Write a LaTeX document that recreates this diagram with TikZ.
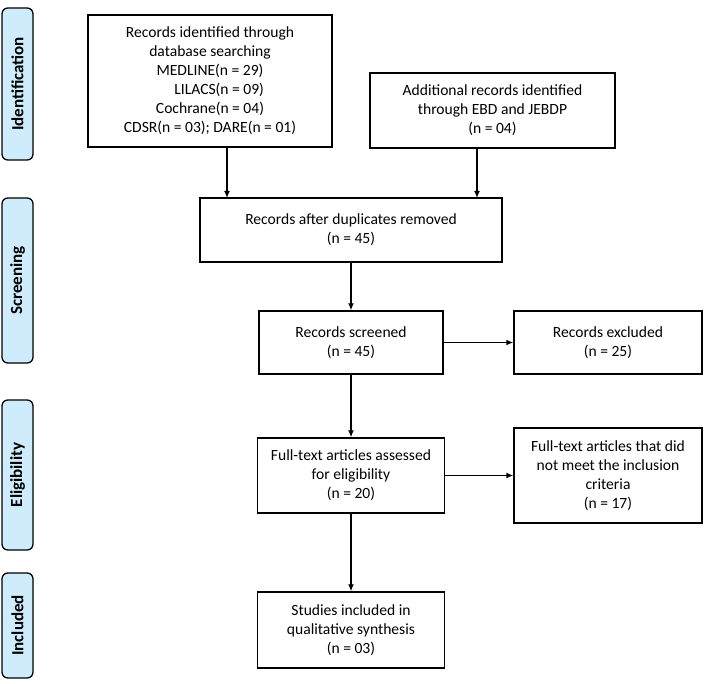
\documentclass[tikz,border=0pt]{standalone}
\usepackage{fontspec}
\setmainfont{Carlito}
\usetikzlibrary{arrows.meta,positioning,calc}
\definecolor{phasefill}{RGB}{206,236,252}
\begin{document}
\begin{tikzpicture}[x=0.03cm,y=-0.03cm,
  box/.style={draw,line width=1.1pt,align=center,inner sep=2pt,font=\fontsize{13.3}{16.2}\selectfont},
  phase/.style={draw,line width=1.1pt,fill=phasefill,rounded corners=5pt,rotate=90,font=\bfseries\fontsize{14.5}{16}\selectfont,minimum height=31*0.03cm,inner sep=1pt},
  arr/.style={-{Latex[length=6pt,width=5pt]},line width=1.1pt}]
\useasboundingbox (0,0) rectangle (706,684);
% phases on the left
\node[phase,minimum width=152*0.03cm] (ident) at (17.5,84) {Identification};
\node[phase,minimum width=165*0.03cm] (screen) at (17.5,280.5) {Screening};
\node[phase,minimum width=150*0.03cm] (elig) at (17.5,475) {Eligibility};
\node[phase,minimum width=105*0.03cm] (incl) at (17.5,625.5) {Included};
% boxes
\node[box,minimum width=244*0.03cm,minimum height=132*0.03cm] (found) at (210,81) {Records identified through\\database searching\\MEDLINE(n = 29)\\\hspace*{0.55cm}LILACS(n = 09)\\Cochrane(n = 04)\\CDSR(n = 03); DARE(n = 01)};
\node[box,minimum width=245*0.03cm,minimum height=75*0.03cm] (extra) at (492.5,110.5) {Additional records identified\\through EBD and JEBDP\\(n = 04)};
\node[box,minimum width=302*0.03cm,minimum height=64*0.03cm] (dedup) at (351,230) {Records after duplicates removed\\(n = 45)};
\node[box,minimum width=184*0.03cm,minimum height=63*0.03cm] (screened) at (351,342.5) {Records screened\\(n = 45)};
\node[box,minimum width=188*0.03cm,minimum height=63*0.03cm] (excl) at (608,342.5) {Records excluded\\(n = 25)};
\node[box,minimum width=187*0.03cm,minimum height=75*0.03cm] (fulltext) at (351,475.5) {Full-text articles assessed\\for eligibility\\(n = 20)};
\node[box,minimum width=188*0.03cm,minimum height=95*0.03cm] (notmet) at (608,475.5) {Full-text articles that did\\not meet the inclusion\\criteria\\(n = 17)};
\node[box,minimum width=187*0.03cm,minimum height=76*0.03cm] (incl8) at (351,630) {Studies included in\\qualitative synthesis\\(n = 03)};
% arrows
\coordinate (inA) at (227,198);
\coordinate (inB) at (477,198);
\draw[arr] (found.south -| inA) -- (inA);
\draw[arr] (extra.south -| inB) -- (inB);
\draw[arr] (dedup) -- (screened);
\draw[arr] (screened) -- (excl);
\draw[arr] (screened) -- (fulltext);
\draw[arr] (fulltext) -- (notmet);
\draw[arr] (fulltext) -- (incl8);
\end{tikzpicture}
\end{document}
